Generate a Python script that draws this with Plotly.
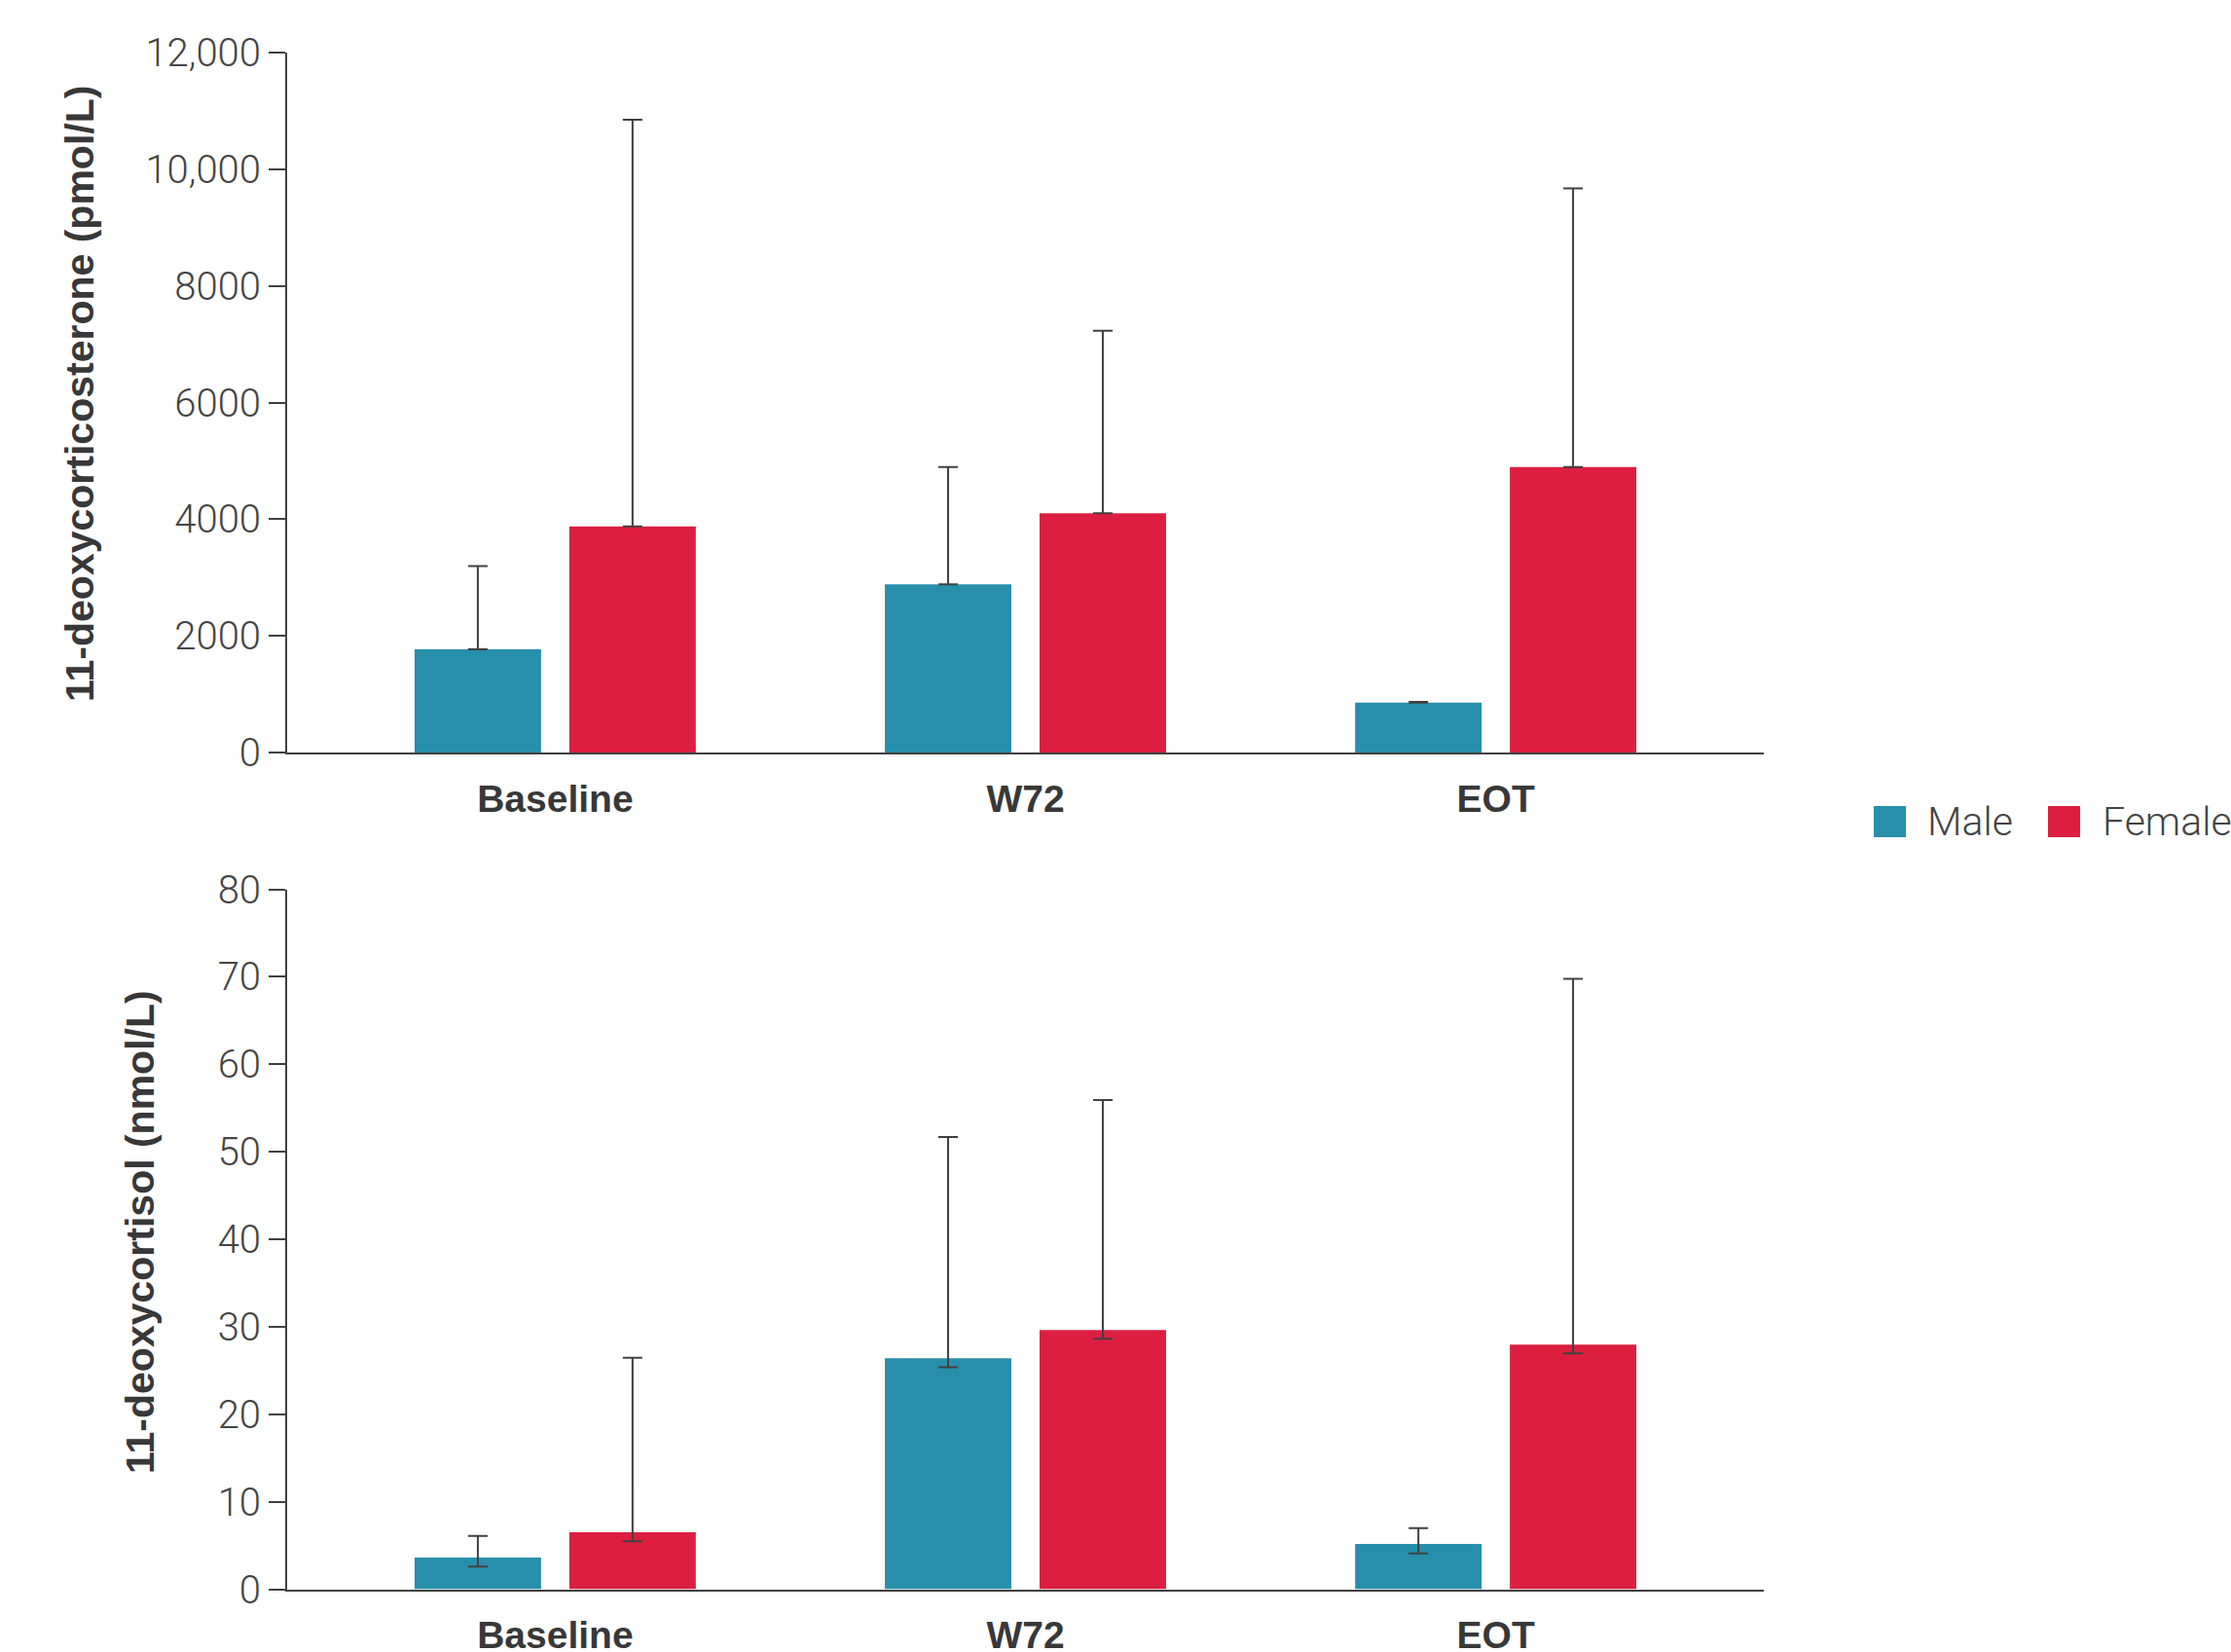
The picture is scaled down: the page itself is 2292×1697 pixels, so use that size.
import plotly.graph_objects as go

# ---------------- data ----------------
categories = ["Baseline", "W72", "EOT"]

# 11-deoxycorticosterone (pmol/L)
doc_male = [1770, 2885, 855]
doc_male_hi = [3195, 4893, 866]
doc_male_lo = [1770, 2885, 855]
doc_female = [3875, 4102, 4893]
doc_female_hi = [10850, 7232, 9672]
doc_female_lo = [3875, 4102, 4893]

# 11-deoxycortisol (nmol/L)
s_male = [3.62, 26.4, 5.17]
s_male_hi = [6.10, 51.7, 6.99]
s_male_lo = [2.58, 25.37, 4.10]
s_female = [6.51, 29.62, 27.97]
s_female_hi = [26.46, 55.92, 69.78]
s_female_lo = [5.47, 28.63, 26.95]

doc_tickvals = [0, 2000, 4000, 6000, 8000, 10000, 12000]
doc_ticktext = ["0", "2000", "4000", "6000", "8000", "10,000", "12,000"]
s_tickvals = [0, 10, 20, 30, 40, 50, 60, 70, 80]
s_ticktext = ["0", "10", "20", "30", "40", "50", "60", "70", "80"]

series_names = ["Male", "Female"]
MALE_COLOR = "#278FAB"
FEMALE_COLOR = "#DC1F41"
AXIS_COLOR = "#404040"
BOLD_FONT = "Liberation Sans, Arial, sans-serif"
LIGHT_FONT = "Roboto, Liberation Sans, sans-serif"

W, H = 2292, 1697

fig = go.Figure()

BAR_W = 0.269
GAP = 0.06


def add_bars(vals, hi, lo, color, offset, xaxis, yaxis):
    plus = [h - v for h, v in zip(hi, vals)]
    minus = [v - l for v, l in zip(vals, lo)]
    fig.add_trace(go.Bar(
        x=categories, y=vals, xaxis=xaxis, yaxis=yaxis,
        width=BAR_W, offset=offset,
        marker=dict(color=color, line=dict(width=0)),
        error_y=dict(type="data", symmetric=False, array=plus, arrayminus=minus,
                     color=AXIS_COLOR, thickness=2, width=10),
        showlegend=False,
    ))


add_bars(doc_male, doc_male_hi, doc_male_lo, MALE_COLOR, -(BAR_W + GAP / 2), "x", "y")
add_bars(doc_female, doc_female_hi, doc_female_lo, FEMALE_COLOR, GAP / 2, "x", "y")
add_bars(s_male, s_male_hi, s_male_lo, MALE_COLOR, -(BAR_W + GAP / 2), "x2", "y2")
add_bars(s_female, s_female_hi, s_female_lo, FEMALE_COLOR, GAP / 2, "x2", "y2")

xdom = [295 / W, 1812 / W]
top_dom = [1 - 773 / H, 1 - 54 / H]
bot_dom = [1 - 1632.5 / H, 1 - 913.6 / H]

xcommon = dict(
    domain=xdom, type="category", range=[-0.57, 2.57],
    showline=True, linecolor=AXIS_COLOR, linewidth=2,
    ticks="", showgrid=False, zeroline=False, automargin=False,
    ticklabelstandoff=12,
    tickfont=dict(family=BOLD_FONT, size=39, color="#383838", weight="bold"),
    fixedrange=True,
)
ycommon = dict(
    showline=True, linecolor=AXIS_COLOR, linewidth=2,
    ticks="outside", ticklen=17, tickwidth=2, tickcolor=AXIS_COLOR,
    showgrid=False, zeroline=False, automargin=False,
    tickfont=dict(family=LIGHT_FONT, size=40, color="#444444", weight=300),
    fixedrange=True,
)

fig.update_layout(
    template="none",
    width=W, height=H, autosize=False,
    margin=dict(l=0, r=0, t=0, b=0, pad=0),
    paper_bgcolor="white", plot_bgcolor="white",
    barmode="overlay",
    xaxis=dict(xcommon, anchor="y"),
    yaxis=dict(ycommon, domain=top_dom, anchor="x", range=[0, 12000],
               tickvals=doc_tickvals, ticktext=doc_ticktext),
    xaxis2=dict(xcommon, anchor="y2"),
    yaxis2=dict(ycommon, domain=bot_dom, anchor="x2", range=[0, 80],
                tickvals=s_tickvals, ticktext=s_ticktext),
)

# axis titles
fig.add_annotation(text="11-deoxycorticosterone (pmol/L)", xref="paper", yref="paper",
                   x=82 / W, y=1 - 405 / H, textangle=-90, showarrow=False,
                   xanchor="center", yanchor="middle",
                   font=dict(family=BOLD_FONT, size=41, color="#383838", weight="bold"))
fig.add_annotation(text="11-deoxycortisol (nmol/L)", xref="paper", yref="paper",
                   x=144 / W, y=1 - 1266 / H, textangle=-90, showarrow=False,
                   xanchor="center", yanchor="middle",
                   font=dict(family=BOLD_FONT, size=41, color="#383838", weight="bold"))

# legend (custom, large square swatches)
legend_items = [(series_names[0], MALE_COLOR, 1925, 1978), (series_names[1], FEMALE_COLOR, 2104, 2158)]
for name, color, sx, tx in legend_items:
    fig.add_shape(type="rect", xref="paper", yref="paper",
                  x0=sx / W, x1=(sx + 33) / W, y0=1 - 860 / H, y1=1 - 828 / H,
                  fillcolor=color, line=dict(width=0))
    fig.add_annotation(text=name, xref="paper", yref="paper", x=tx / W, y=1 - 844 / H,
                       xanchor="left", yanchor="middle", showarrow=False,
                       font=dict(family=LIGHT_FONT, size=41, color="#444444", weight=300))

fig.write_html("out.html")
